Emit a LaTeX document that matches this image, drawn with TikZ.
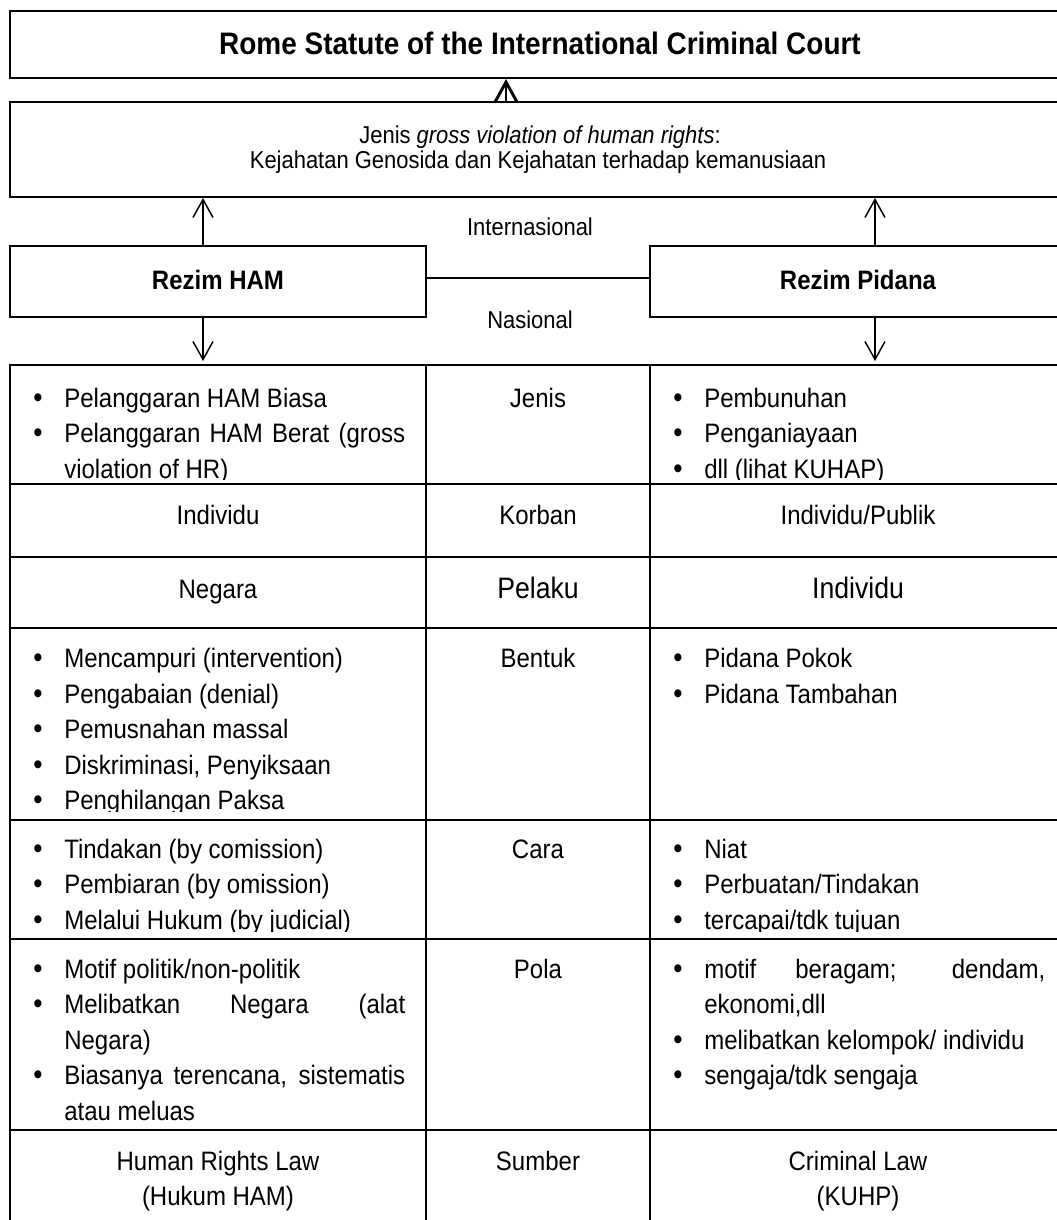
\documentclass[tikz,border=0pt]{standalone}
\usepackage{fontspec}
\setmainfont{Liberation Sans}[FakeStretch=0.9]
\usetikzlibrary{arrows.meta}
\newcommand{\fsz}[1]{\fontsize{#1}{#1}\selectfont}
\newcommand{\jline}[1]{\makebox[255.75pt][s]{#1}}
\begin{document}
\begin{tikzpicture}[x=0.75pt,y=-0.75pt,
  box/.style={draw, line width=1.5pt, rectangle, inner sep=0pt},
  cellbox/.style={draw, line width=1.5pt, rectangle, inner sep=0pt},
  arr/.style={line width=1.1pt, -{Straight Barb[length=13.5pt,width=15pt]}},
  toparr/.style={line width=2.2pt, -{Straight Barb[length=15pt,width=16.5pt]}},
  link/.style={line width=1.5pt},
  lt/.style={inner sep=0pt, anchor=base west, font=\fsz{20pt}},
  ct/.style={inner sep=0pt, anchor=base, font=\fsz{20pt}},
  bul/.style={inner sep=0pt, anchor=base, font=\fsz{22pt}},
  ctb/.style={inner sep=0pt, anchor=base, font=\fsz{22.2pt}},
  hd/.style={inner sep=0pt, anchor=base, font=\fsz{18.3pt}},
  bld/.style={inner sep=0pt, anchor=base, font=\fsz{20pt}\bfseries},
  ttl/.style={inner sep=0pt, anchor=base, font=\fsz{23.3pt}\bfseries}]
\fill[white] (0,0) rectangle (1056,1220);
\useasboundingbox (0,0) rectangle (1056,1220);

% top boxes
\node[box, minimum width=792pt, minimum height=50.25pt] (rome) at (538,44.5) {};
\node[ttl] (romet) at (540,54.5) {Rome Statute of the International Criminal Court};
\node[box, minimum width=792pt, minimum height=71.25pt] (jenis) at (538,149.5) {};
\node[hd] (jenisa) at (540,144) {Jenis \textit{gross violation of human rights}:};
\node[hd] (jenisb) at (538,169) {Kejahatan Genosida dan Kejahatan terhadap kemanusiaan};

\node[box, minimum width=312pt, minimum height=53.25pt] (ham) at (218,281.5) {};
\node[bld] (hamt) at (218,289) {Rezim HAM};
\node[box, minimum width=312pt, minimum height=53.25pt] (pid) at (858,281.5) {};
\node[bld] (pidt) at (858,289) {Rezim Pidana};

\node[hd] (intl) at (530,235) {Internasional};
\node[hd] (nasl) at (530,328) {Nasional};

% table cells
\foreach \r/\a/\b in {1/365/484, 2/484/557, 3/557/628, 4/628/820, 5/820/939, 6/939/1130, 7/1130/1250} {
  \node[cellbox, minimum width=312pt, minimum height={(\b-\a)*0.75pt}] (L\r) at (218,{(\a+\b)/2}) {};
  \node[cellbox, minimum width=168pt, minimum height={(\b-\a)*0.75pt}] (M\r) at (538,{(\a+\b)/2}) {};
  \node[cellbox, minimum width=312pt, minimum height={(\b-\a)*0.75pt}] (R\r) at (858,{(\a+\b)/2}) {};
}

% connectors
\draw[toparr] ([xshift=-24pt]jenis.north) -- ([xshift=-24pt]rome.south);
\coordinate (hamup) at ([xshift=-11.25pt]ham.north);
\coordinate (pidup) at ([xshift=12.75pt]pid.north);
\coordinate (hamdn) at ([xshift=-11.25pt]ham.south);
\coordinate (piddn) at ([xshift=12.75pt]pid.south);
\draw[arr] (hamup) -- (hamup |- jenis.south);
\draw[arr] (pidup) -- (pidup |- jenis.south);
\draw[arr, shorten >=2.25pt] (hamdn) -- (hamdn |- L1.north);
\draw[arr, shorten >=2.25pt] (piddn) -- (piddn |- R1.north);
\draw[link] ([yshift=2.6pt]ham.east) -- ([yshift=2.6pt]pid.west);

% row 1
\begin{scope}
\clip (0,365) rectangle (1100,479);
\node[bul] (b1a) at (38,407) {\textbullet};
\node[lt] (l1a) at (64,407) {Pelanggaran HAM Biasa};
\node[bul] (b1b) at (38,442.5) {\textbullet};
\node[lt] (l1b) at (64,442.5) {\jline{Pelanggaran HAM Berat (gross}};
\node[lt] (l1c) at (64,478) {violation of HR)};
\node[ct] (m1) at (538,407) {Jenis};
\node[bul] (b1d) at (678,407) {\textbullet};
\node[lt] (r1a) at (704,407) {Pembunuhan};
\node[bul] (b1e) at (678,442.5) {\textbullet};
\node[lt] (r1b) at (704,442.5) {Penganiayaan};
\node[bul] (b1f) at (678,478) {\textbullet};
\node[lt] (r1c) at (704,478) {dll (lihat KUHAP)};
\end{scope}

% row 2
\node[ct] (l2) at (218,524.5) {Individu};
\node[ct] (m2) at (538,524.5) {Korban};
\node[ct] (r2) at (858,524.5) {Individu/Publik};

% row 3
\node[ct] (l3) at (218,598) {Negara};
\node[ctb] (m3) at (538,598) {Pelaku};
\node[ctb] (r3) at (858,598) {Individu};

% row 4
\begin{scope}
\clip (0,628) rectangle (1100,811);
\node[bul] (b4a) at (38,667.5) {\textbullet};
\node[lt] (l4a) at (64,667.5) {Mencampuri (intervention)};
\node[bul] (b4b) at (38,703) {\textbullet};
\node[lt] (l4b) at (64,703) {Pengabaian (denial)};
\node[bul] (b4c) at (38,738.5) {\textbullet};
\node[lt] (l4c) at (64,738.5) {Pemusnahan massal};
\node[bul] (b4d) at (38,774) {\textbullet};
\node[lt] (l4d) at (64,774) {Diskriminasi, Penyiksaan};
\node[bul] (b4e) at (38,809.5) {\textbullet};
\node[lt] (l4e) at (64,809.5) {Penghilangan Paksa};
\node[ct] (m4) at (538,667.5) {Bentuk};
\node[bul] (b4f) at (678,667.5) {\textbullet};
\node[lt] (r4a) at (704,667.5) {Pidana Pokok};
\node[bul] (b4g) at (678,703) {\textbullet};
\node[lt] (r4b) at (704,703) {Pidana Tambahan};
\end{scope}

% row 5
\begin{scope}
\clip (0,820) rectangle (1100,931);
\node[bul] (b5a) at (38,858) {\textbullet};
\node[lt] (l5a) at (64,858) {Tindakan (by comission)};
\node[bul] (b5b) at (38,893.5) {\textbullet};
\node[lt] (l5b) at (64,893.5) {Pembiaran (by omission)};
\node[bul] (b5c) at (38,929) {\textbullet};
\node[lt] (l5c) at (64,929) {Melalui Hukum (by judicial)};
\node[ct] (m5) at (538,858) {Cara};
\node[bul] (b5d) at (678,858) {\textbullet};
\node[lt] (r5a) at (704,858) {Niat};
\node[bul] (b5e) at (678,893.5) {\textbullet};
\node[lt] (r5b) at (704,893.5) {Perbuatan/Tindakan};
\node[bul] (b5f) at (678,929) {\textbullet};
\node[lt] (r5c) at (704,929) {tercapai/tdk tujuan};
\end{scope}

% row 6
\node[bul] (b6a) at (38,978) {\textbullet};
\node[lt] (l6a) at (64,978) {Motif politik/non-politik};
\node[bul] (b6b) at (38,1013.5) {\textbullet};
\node[lt] (l6b) at (64,1013.5) {\jline{Melibatkan Negara (alat}};
\node[lt] (l6c) at (64,1049) {Negara)};
\node[bul] (b6d) at (38,1084.5) {\textbullet};
\node[lt] (l6d) at (64,1084.5) {\jline{Biasanya terencana, sistematis}};
\node[lt] (l6e) at (64,1120) {atau meluas};
\node[ct] (m6) at (538,978) {Pola};
\node[bul] (b6f) at (678,978) {\textbullet};
\node[lt] (r6a) at (704,978) {\jline{motif beragam; dendam,}};
\node[lt] (r6b) at (704,1013.5) {ekonomi,dll};
\node[bul] (b6g) at (678,1049) {\textbullet};
\node[lt] (r6c) at (704,1049) {melibatkan kelompok/ individu};
\node[bul] (b6h) at (678,1084.5) {\textbullet};
\node[lt] (r6d) at (704,1084.5) {sengaja/tdk sengaja};

% row 7
\node[ct] (l7a) at (218,1170.5) {Human Rights Law};
\node[ct] (l7b) at (218,1205) {(Hukum HAM)};
\node[ct] (m7) at (538,1170.5) {Sumber};
\node[ct] (r7a) at (858,1170.5) {Criminal Law};
\node[ct] (r7b) at (858,1205) {(KUHP)};
\end{tikzpicture}
\end{document}
